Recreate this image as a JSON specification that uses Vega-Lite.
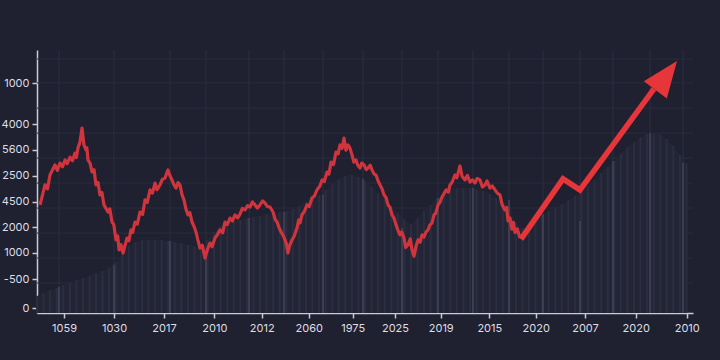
{
  "$schema": "https://vega.github.io/schema/vega-lite/v6.json",
  "width": 656,
  "height": 263,
  "autosize": {"type": "none"},
  "padding": {"left": 37, "top": 50, "right": 27, "bottom": 47},
  "background": "#1f2030",
  "config": {
    "view": {"stroke": null},
    "font": "Inter",
    "axis": {
      "domainColor": "#c9cad2",
      "domainWidth": 1.5,
      "tickColor": "#c9cad2",
      "tickWidth": 1.5,
      "tickSize": 5,
      "labelColor": "#dedfe4",
      "labelFontSize": 11,
      "labelFont": "Inter",
      "grid": false
    }
  },
  "datasets": {
    "series": [
      {"x": 0.46, "y": 41.1}, {"x": 1.22, "y": 48.7}, {"x": 1.6, "y": 47.2}, {"x": 1.98, "y": 52.5}, {"x": 2.74, "y": 56.3},
      {"x": 3.1, "y": 54.2}, {"x": 3.51, "y": 57.0}, {"x": 3.9, "y": 55.6}, {"x": 4.27, "y": 58.2}, {"x": 4.6, "y": 56.8},
      {"x": 5.03, "y": 59.3}, {"x": 5.4, "y": 57.9}, {"x": 5.79, "y": 60.8}, {"x": 6.0, "y": 59.1}, {"x": 6.25, "y": 62.7},
      {"x": 6.55, "y": 65.0}, {"x": 6.86, "y": 70.3}, {"x": 7.16, "y": 63.9}, {"x": 7.47, "y": 62.0}, {"x": 7.6, "y": 62.8},
      {"x": 7.77, "y": 58.2}, {"x": 8.1, "y": 56.9}, {"x": 8.38, "y": 53.6}, {"x": 8.7, "y": 54.5}, {"x": 8.99, "y": 48.7},
      {"x": 9.3, "y": 49.6}, {"x": 9.6, "y": 44.9}, {"x": 9.9, "y": 45.8}, {"x": 10.21, "y": 41.1}, {"x": 10.82, "y": 38.4},
      {"x": 11.1, "y": 39.6}, {"x": 11.43, "y": 34.6}, {"x": 11.7, "y": 33.7}, {"x": 12.04, "y": 27.8}, {"x": 12.3, "y": 29.3},
      {"x": 12.5, "y": 24.0}, {"x": 12.8, "y": 26.0}, {"x": 13.11, "y": 22.8}, {"x": 13.72, "y": 28.5}, {"x": 14.0, "y": 27.4},
      {"x": 14.33, "y": 31.6}, {"x": 14.6, "y": 30.7}, {"x": 14.94, "y": 34.6}, {"x": 15.3, "y": 33.8}, {"x": 15.7, "y": 38.4},
      {"x": 16.1, "y": 37.5}, {"x": 16.46, "y": 43.0}, {"x": 16.8, "y": 42.0}, {"x": 17.23, "y": 46.8}, {"x": 17.6, "y": 45.6},
      {"x": 17.99, "y": 49.4}, {"x": 18.3, "y": 46.9}, {"x": 18.75, "y": 48.7}, {"x": 19.1, "y": 50.8}, {"x": 19.51, "y": 51.3},
      {"x": 19.97, "y": 54.4}, {"x": 20.3, "y": 52.0}, {"x": 20.58, "y": 50.6}, {"x": 20.9, "y": 48.6}, {"x": 21.19, "y": 47.5},
      {"x": 21.5, "y": 49.6}, {"x": 21.8, "y": 48.7}, {"x": 22.1, "y": 45.0}, {"x": 22.41, "y": 43.0}, {"x": 22.7, "y": 39.6},
      {"x": 23.02, "y": 37.3}, {"x": 23.3, "y": 38.2}, {"x": 23.63, "y": 34.6}, {"x": 23.9, "y": 33.2}, {"x": 24.24, "y": 30.8},
      {"x": 24.5, "y": 28.0}, {"x": 24.85, "y": 24.7}, {"x": 25.2, "y": 25.8}, {"x": 25.61, "y": 20.9}, {"x": 26.0, "y": 24.3},
      {"x": 26.37, "y": 26.6}, {"x": 26.7, "y": 25.2}, {"x": 27.13, "y": 28.5}, {"x": 27.5, "y": 29.8}, {"x": 27.9, "y": 31.6},
      {"x": 28.3, "y": 30.5}, {"x": 28.66, "y": 34.6}, {"x": 29.0, "y": 33.6}, {"x": 29.42, "y": 36.1}, {"x": 29.8, "y": 35.0},
      {"x": 30.18, "y": 37.3}, {"x": 30.6, "y": 36.2}, {"x": 30.95, "y": 37.6}, {"x": 31.3, "y": 39.8}, {"x": 31.71, "y": 39.2},
      {"x": 32.1, "y": 40.8}, {"x": 32.47, "y": 40.3}, {"x": 32.85, "y": 42.2}, {"x": 33.23, "y": 41.1}, {"x": 33.6, "y": 39.9},
      {"x": 33.99, "y": 41.1}, {"x": 34.4, "y": 42.6}, {"x": 34.76, "y": 41.8}, {"x": 35.1, "y": 40.5}, {"x": 35.52, "y": 40.3},
      {"x": 35.98, "y": 38.4}, {"x": 36.3, "y": 35.6}, {"x": 36.59, "y": 34.6}, {"x": 36.9, "y": 32.4}, {"x": 37.2, "y": 30.8},
      {"x": 37.5, "y": 29.6}, {"x": 37.8, "y": 27.8}, {"x": 38.0, "y": 26.4}, {"x": 38.26, "y": 22.8}, {"x": 38.5, "y": 25.6},
      {"x": 38.87, "y": 27.8}, {"x": 39.2, "y": 29.2}, {"x": 39.63, "y": 32.3}, {"x": 39.9, "y": 35.4}, {"x": 40.1, "y": 34.3},
      {"x": 40.4, "y": 37.3}, {"x": 40.8, "y": 38.8}, {"x": 41.16, "y": 41.1}, {"x": 41.5, "y": 40.5}, {"x": 41.92, "y": 43.7},
      {"x": 42.3, "y": 44.5}, {"x": 42.68, "y": 46.8}, {"x": 43.1, "y": 48.2}, {"x": 43.45, "y": 50.6}, {"x": 43.8, "y": 50.0},
      {"x": 44.21, "y": 53.6}, {"x": 44.5, "y": 52.8}, {"x": 44.82, "y": 57.4}, {"x": 45.2, "y": 56.4}, {"x": 45.58, "y": 61.2},
      {"x": 45.9, "y": 60.5}, {"x": 46.19, "y": 63.9}, {"x": 46.5, "y": 62.6}, {"x": 46.8, "y": 66.5}, {"x": 47.1, "y": 61.9},
      {"x": 47.41, "y": 63.9}, {"x": 47.7, "y": 62.8}, {"x": 48.02, "y": 60.1}, {"x": 48.3, "y": 57.4}, {"x": 48.63, "y": 58.2},
      {"x": 48.9, "y": 56.2}, {"x": 49.24, "y": 55.1}, {"x": 49.5, "y": 57.0}, {"x": 49.85, "y": 56.3}, {"x": 50.2, "y": 54.5},
      {"x": 50.46, "y": 55.1}, {"x": 50.8, "y": 56.2}, {"x": 51.07, "y": 54.4}, {"x": 51.4, "y": 52.8}, {"x": 51.68, "y": 52.5},
      {"x": 52.0, "y": 50.2}, {"x": 52.29, "y": 48.7}, {"x": 52.6, "y": 47.2}, {"x": 52.9, "y": 44.9}, {"x": 53.2, "y": 43.9},
      {"x": 53.51, "y": 41.1}, {"x": 53.8, "y": 40.2}, {"x": 54.12, "y": 37.3}, {"x": 54.4, "y": 36.2}, {"x": 54.73, "y": 33.5},
      {"x": 55.0, "y": 31.6}, {"x": 55.34, "y": 29.7}, {"x": 55.6, "y": 30.8}, {"x": 55.95, "y": 28.5}, {"x": 56.2, "y": 24.9},
      {"x": 56.55, "y": 25.9}, {"x": 56.9, "y": 28.2}, {"x": 57.16, "y": 24.0}, {"x": 57.47, "y": 21.6}, {"x": 57.8, "y": 25.6},
      {"x": 58.08, "y": 27.8}, {"x": 58.4, "y": 26.9}, {"x": 58.69, "y": 29.7}, {"x": 59.0, "y": 28.9}, {"x": 59.3, "y": 30.8},
      {"x": 59.6, "y": 31.6}, {"x": 59.91, "y": 33.5}, {"x": 60.2, "y": 34.2}, {"x": 60.52, "y": 37.3}, {"x": 60.8, "y": 38.0},
      {"x": 61.13, "y": 41.1}, {"x": 61.4, "y": 42.0}, {"x": 61.74, "y": 44.1}, {"x": 62.0, "y": 45.2}, {"x": 62.35, "y": 46.8},
      {"x": 62.7, "y": 46.0}, {"x": 62.96, "y": 48.7}, {"x": 63.3, "y": 49.8}, {"x": 63.72, "y": 52.5}, {"x": 64.0, "y": 51.4},
      {"x": 64.48, "y": 55.9}, {"x": 64.8, "y": 52.0}, {"x": 65.24, "y": 50.6}, {"x": 65.6, "y": 52.3}, {"x": 66.01, "y": 49.8},
      {"x": 66.4, "y": 50.6}, {"x": 66.77, "y": 49.4}, {"x": 67.1, "y": 51.2}, {"x": 67.53, "y": 50.6}, {"x": 67.9, "y": 47.9},
      {"x": 68.29, "y": 48.7}, {"x": 68.6, "y": 50.2}, {"x": 69.05, "y": 47.5}, {"x": 69.4, "y": 48.3}, {"x": 69.82, "y": 46.8},
      {"x": 70.2, "y": 45.5}, {"x": 70.58, "y": 44.9}, {"x": 70.9, "y": 41.2}, {"x": 71.34, "y": 39.2}, {"x": 71.6, "y": 40.1},
      {"x": 71.8, "y": 35.0}, {"x": 72.1, "y": 36.1}, {"x": 72.4, "y": 31.9}, {"x": 72.6, "y": 34.5}, {"x": 72.87, "y": 30.6},
      {"x": 73.2, "y": 32.0}, {"x": 73.63, "y": 28.5}
    ],
    "arrow": [
      {"x": 73.78, "y": 28.1},
      {"x": 80.18, "y": 51.0},
      {"x": 82.77, "y": 46.8},
      {"x": 94.05, "y": 85.2}
    ],
    "head": [
      {"x": 97.56, "y": 95.8}
    ],
    "sil": [
      {"x": 0, "h": 6.5}, {"x": 1, "h": 7.6}, {"x": 2, "h": 8.7}, {"x": 3, "h": 9.5}, {"x": 4, "h": 10.6},
      {"x": 5, "h": 11.4}, {"x": 6, "h": 12.5}, {"x": 7, "h": 13.3}, {"x": 8, "h": 14.1}, {"x": 9, "h": 15.2},
      {"x": 10, "h": 16.0}, {"x": 11, "h": 17.1}, {"x": 12, "h": 19.4}, {"x": 13, "h": 22.1}, {"x": 14, "h": 25.5},
      {"x": 15, "h": 27.0}, {"x": 16, "h": 27.8}, {"x": 17, "h": 27.8}, {"x": 18, "h": 27.8}, {"x": 19, "h": 27.8},
      {"x": 20, "h": 27.4}, {"x": 21, "h": 27.0}, {"x": 22, "h": 26.6}, {"x": 23, "h": 25.9}, {"x": 24, "h": 25.5},
      {"x": 25, "h": 24.7}, {"x": 26, "h": 27.8}, {"x": 27, "h": 30.8}, {"x": 28, "h": 33.1}, {"x": 29, "h": 34.2},
      {"x": 30, "h": 35.0}, {"x": 31, "h": 35.4}, {"x": 32, "h": 36.1}, {"x": 33, "h": 36.5}, {"x": 34, "h": 36.9},
      {"x": 35, "h": 37.6}, {"x": 36, "h": 38.0}, {"x": 37, "h": 38.4}, {"x": 38, "h": 38.8}, {"x": 39, "h": 39.5},
      {"x": 40, "h": 40.7}, {"x": 41, "h": 42.2}, {"x": 42, "h": 43.7}, {"x": 43, "h": 44.9}, {"x": 44, "h": 46.8},
      {"x": 45, "h": 49.0}, {"x": 46, "h": 51.0}, {"x": 47, "h": 52.1}, {"x": 48, "h": 52.5}, {"x": 49, "h": 51.7},
      {"x": 50, "h": 50.2}, {"x": 51, "h": 47.9}, {"x": 52, "h": 45.6}, {"x": 53, "h": 43.3}, {"x": 54, "h": 40.7},
      {"x": 55, "h": 38.0}, {"x": 56, "h": 35.7}, {"x": 57, "h": 33.8}, {"x": 58, "h": 36.1}, {"x": 59, "h": 38.8},
      {"x": 60, "h": 41.1}, {"x": 61, "h": 43.7}, {"x": 62, "h": 45.6}, {"x": 63, "h": 46.8}, {"x": 64, "h": 47.5},
      {"x": 65, "h": 47.5}, {"x": 66, "h": 47.5}, {"x": 67, "h": 47.1}, {"x": 68, "h": 46.4}, {"x": 69, "h": 45.2},
      {"x": 70, "h": 43.7}, {"x": 71, "h": 42.2}, {"x": 72, "h": 40.7}, {"x": 73, "h": 34.6}, {"x": 74, "h": 32.3},
      {"x": 75, "h": 34.6}, {"x": 76, "h": 36.1}, {"x": 77, "h": 37.6}, {"x": 78, "h": 38.8}, {"x": 79, "h": 40.3},
      {"x": 80, "h": 41.4}, {"x": 81, "h": 43.0}, {"x": 82, "h": 44.5}, {"x": 83, "h": 46.0}, {"x": 84, "h": 48.3},
      {"x": 85, "h": 50.6}, {"x": 86, "h": 53.2}, {"x": 87, "h": 55.5}, {"x": 88, "h": 57.8}, {"x": 89, "h": 60.5},
      {"x": 90, "h": 63.1}, {"x": 91, "h": 65.0}, {"x": 92, "h": 66.9}, {"x": 93, "h": 68.1}, {"x": 94, "h": 68.4},
      {"x": 95, "h": 67.7}, {"x": 96, "h": 66.2}, {"x": 97, "h": 63.5}, {"x": 98, "h": 60.1}, {"x": 99, "h": 57.0}
    ],
    "vgrid": [
      {"x": 3.35, "top": 10.0}, {"x": 11.74, "top": 18.3}, {"x": 20.27, "top": 27.4}, {"x": 25.76, "top": 24.0},
      {"x": 32.32, "top": 36.1}, {"x": 37.65, "top": 38.4}, {"x": 43.6, "top": 44.9}, {"x": 49.7, "top": 51.0},
      {"x": 55.64, "top": 32.3}, {"x": 61.13, "top": 43.7}, {"x": 66.46, "top": 47.5}, {"x": 71.95, "top": 43.0},
      {"x": 77.13, "top": 37.6}, {"x": 82.77, "top": 35.0}, {"x": 87.8, "top": 57.8}, {"x": 93.45, "top": 68.4},
      {"x": 98.48, "top": 57.0}
    ],
    "hgrid": [
      {"y": 96.6}, {"y": 87.5}, {"y": 77.9}, {"y": 68.4}, {"y": 58.9}, {"y": 49.4}, {"y": 39.9}, {"y": 30.4}, {"y": 20.9}, {"y": 11.4}
    ]
  },
  "layer": [
    {
      "data": {"name": "hgrid"},
      "mark": {"type": "rule", "color": "#2a2c3e", "strokeWidth": 1},
      "encoding": {
        "y": {
          "field": "y", "type": "quantitative",
          "scale": {"domain": [0, 100], "nice": false, "zero": false},
          "axis": {
            "title": null,
            "values": [87.3, 71.7, 62.0, 52.1, 42.3, 32.6, 22.9, 12.9, 1.8],
            "labelExpr": "['1000','4000','5600','2500','4500','2000','1000','-500','0'][indexof([87.3,71.7,62.0,52.1,42.3,32.6,22.9,12.9,1.8], datum.value)]",
            "labelPadding": 3
          }
        }
      }
    },
    {
      "data": {"name": "sil"},
      "mark": {"type": "area", "color": "#232535", "interpolate": "monotone"},
      "encoding": {
        "x": {"field": "x", "type": "quantitative", "scale": {"domain": [0, 100], "nice": false, "zero": false},
          "axis": {
            "title": null,
            "values": [4.12, 11.74, 19.36, 27.03, 34.25, 41.42, 48.12, 54.57, 61.54, 68.95, 76.02, 83.54, 91.26, 99.04],
            "labelExpr": "['1059','1030','2017','2010','2012','2060','1975','2025','2019','2015','2020','2007','2020','2010'][indexof([4.12,11.74,19.36,27.03,34.25,41.42,48.12,54.57,61.54,68.95,76.02,83.54,91.26,99.04], datum.value)]",
            "labelPadding": 4
          }
        },
        "y": {"field": "h", "type": "quantitative",
          "axis": {
            "title": null,
            "values": [87.3, 71.7, 62.0, 52.1, 42.3, 32.6, 22.9, 12.9, 1.8],
            "labelExpr": "['1000','4000','5600','2500','4500','2000','1000','-500','0'][indexof([87.3,71.7,62.0,52.1,42.3,32.6,22.9,12.9,1.8], datum.value)]",
            "labelPadding": 3
          }
        }
      }
    },
    {
      "data": {"name": "sil"},
      "mark": {"type": "rule", "color": "#2b2e41", "strokeWidth": 2},
      "encoding": {
        "x": {"field": "x", "type": "quantitative",
          "axis": {
            "title": null,
            "values": [4.12, 11.74, 19.36, 27.03, 34.25, 41.42, 48.12, 54.57, 61.54, 68.95, 76.02, 83.54, 91.26, 99.04],
            "labelExpr": "['1059','1030','2017','2010','2012','2060','1975','2025','2019','2015','2020','2007','2020','2010'][indexof([4.12,11.74,19.36,27.03,34.25,41.42,48.12,54.57,61.54,68.95,76.02,83.54,91.26,99.04], datum.value)]",
            "labelPadding": 4
          }
        },
        "y": {"field": "h", "type": "quantitative",
          "axis": {
            "title": null,
            "values": [87.3, 71.7, 62.0, 52.1, 42.3, 32.6, 22.9, 12.9, 1.8],
            "labelExpr": "['1000','4000','5600','2500','4500','2000','1000','-500','0'][indexof([87.3,71.7,62.0,52.1,42.3,32.6,22.9,12.9,1.8], datum.value)]",
            "labelPadding": 3
          }
        },
        "y2": {"datum": 0}
      }
    },
    {
      "data": {"name": "vgrid"},
      "mark": {"type": "rule", "color": "#2d2f42", "strokeWidth": 1},
      "encoding": {
        "x": {"field": "x", "type": "quantitative",
          "axis": {
            "title": null,
            "values": [4.12, 11.74, 19.36, 27.03, 34.25, 41.42, 48.12, 54.57, 61.54, 68.95, 76.02, 83.54, 91.26, 99.04],
            "labelExpr": "['1059','1030','2017','2010','2012','2060','1975','2025','2019','2015','2020','2007','2020','2010'][indexof([4.12,11.74,19.36,27.03,34.25,41.42,48.12,54.57,61.54,68.95,76.02,83.54,91.26,99.04], datum.value)]",
            "labelPadding": 4
          }
        }
      }
    },
    {
      "data": {"name": "vgrid"},
      "mark": {"type": "rule", "color": "#474a5e", "strokeWidth": 1.3},
      "encoding": {
        "x": {"field": "x", "type": "quantitative",
          "axis": {
            "title": null,
            "values": [4.12, 11.74, 19.36, 27.03, 34.25, 41.42, 48.12, 54.57, 61.54, 68.95, 76.02, 83.54, 91.26, 99.04],
            "labelExpr": "['1059','1030','2017','2010','2012','2060','1975','2025','2019','2015','2020','2007','2020','2010'][indexof([4.12,11.74,19.36,27.03,34.25,41.42,48.12,54.57,61.54,68.95,76.02,83.54,91.26,99.04], datum.value)]",
            "labelPadding": 4
          }
        },
        "y": {"field": "top", "type": "quantitative",
          "axis": {
            "title": null,
            "values": [87.3, 71.7, 62.0, 52.1, 42.3, 32.6, 22.9, 12.9, 1.8],
            "labelExpr": "['1000','4000','5600','2500','4500','2000','1000','-500','0'][indexof([87.3,71.7,62.0,52.1,42.3,32.6,22.9,12.9,1.8], datum.value)]",
            "labelPadding": 3
          }
        },
        "y2": {"datum": 0}
      }
    },
    {
      "data": {"name": "series"},
      "mark": {"type": "line", "color": "#d0343c", "strokeWidth": 3.2, "strokeJoin": "round"},
      "encoding": {
        "x": {"field": "x", "type": "quantitative",
          "axis": {
            "title": null,
            "values": [4.12, 11.74, 19.36, 27.03, 34.25, 41.42, 48.12, 54.57, 61.54, 68.95, 76.02, 83.54, 91.26, 99.04],
            "labelExpr": "['1059','1030','2017','2010','2012','2060','1975','2025','2019','2015','2020','2007','2020','2010'][indexof([4.12,11.74,19.36,27.03,34.25,41.42,48.12,54.57,61.54,68.95,76.02,83.54,91.26,99.04], datum.value)]",
            "labelPadding": 4
          }
        },
        "y": {"field": "y", "type": "quantitative",
          "axis": {
            "title": null,
            "values": [87.3, 71.7, 62.0, 52.1, 42.3, 32.6, 22.9, 12.9, 1.8],
            "labelExpr": "['1000','4000','5600','2500','4500','2000','1000','-500','0'][indexof([87.3,71.7,62.0,52.1,42.3,32.6,22.9,12.9,1.8], datum.value)]",
            "labelPadding": 3
          }
        }
      }
    },
    {
      "data": {"name": "arrow"},
      "mark": {"type": "line", "color": "#e6363a", "strokeWidth": 5.5, "strokeJoin": "miter", "strokeCap": "butt"},
      "encoding": {
        "x": {"field": "x", "type": "quantitative",
          "axis": {
            "title": null,
            "values": [4.12, 11.74, 19.36, 27.03, 34.25, 41.42, 48.12, 54.57, 61.54, 68.95, 76.02, 83.54, 91.26, 99.04],
            "labelExpr": "['1059','1030','2017','2010','2012','2060','1975','2025','2019','2015','2020','2007','2020','2010'][indexof([4.12,11.74,19.36,27.03,34.25,41.42,48.12,54.57,61.54,68.95,76.02,83.54,91.26,99.04], datum.value)]",
            "labelPadding": 4
          }
        },
        "y": {"field": "y", "type": "quantitative",
          "axis": {
            "title": null,
            "values": [87.3, 71.7, 62.0, 52.1, 42.3, 32.6, 22.9, 12.9, 1.8],
            "labelExpr": "['1000','4000','5600','2500','4500','2000','1000','-500','0'][indexof([87.3,71.7,62.0,52.1,42.3,32.6,22.9,12.9,1.8], datum.value)]",
            "labelPadding": 3
          }
        }
      }
    },
    {
      "data": {"name": "head"},
      "mark": {"type": "point", "shape": "M0,0L0.8,2L-0.8,2Z", "size": 1296, "angle": 37, "filled": true, "color": "#e6363a", "opacity": 1},
      "encoding": {
        "x": {"field": "x", "type": "quantitative",
          "axis": {
            "title": null,
            "values": [4.12, 11.74, 19.36, 27.03, 34.25, 41.42, 48.12, 54.57, 61.54, 68.95, 76.02, 83.54, 91.26, 99.04],
            "labelExpr": "['1059','1030','2017','2010','2012','2060','1975','2025','2019','2015','2020','2007','2020','2010'][indexof([4.12,11.74,19.36,27.03,34.25,41.42,48.12,54.57,61.54,68.95,76.02,83.54,91.26,99.04], datum.value)]",
            "labelPadding": 4
          }
        },
        "y": {"field": "y", "type": "quantitative",
          "axis": {
            "title": null,
            "values": [87.3, 71.7, 62.0, 52.1, 42.3, 32.6, 22.9, 12.9, 1.8],
            "labelExpr": "['1000','4000','5600','2500','4500','2000','1000','-500','0'][indexof([87.3,71.7,62.0,52.1,42.3,32.6,22.9,12.9,1.8], datum.value)]",
            "labelPadding": 3
          }
        }
      }
    }
  ]
}
